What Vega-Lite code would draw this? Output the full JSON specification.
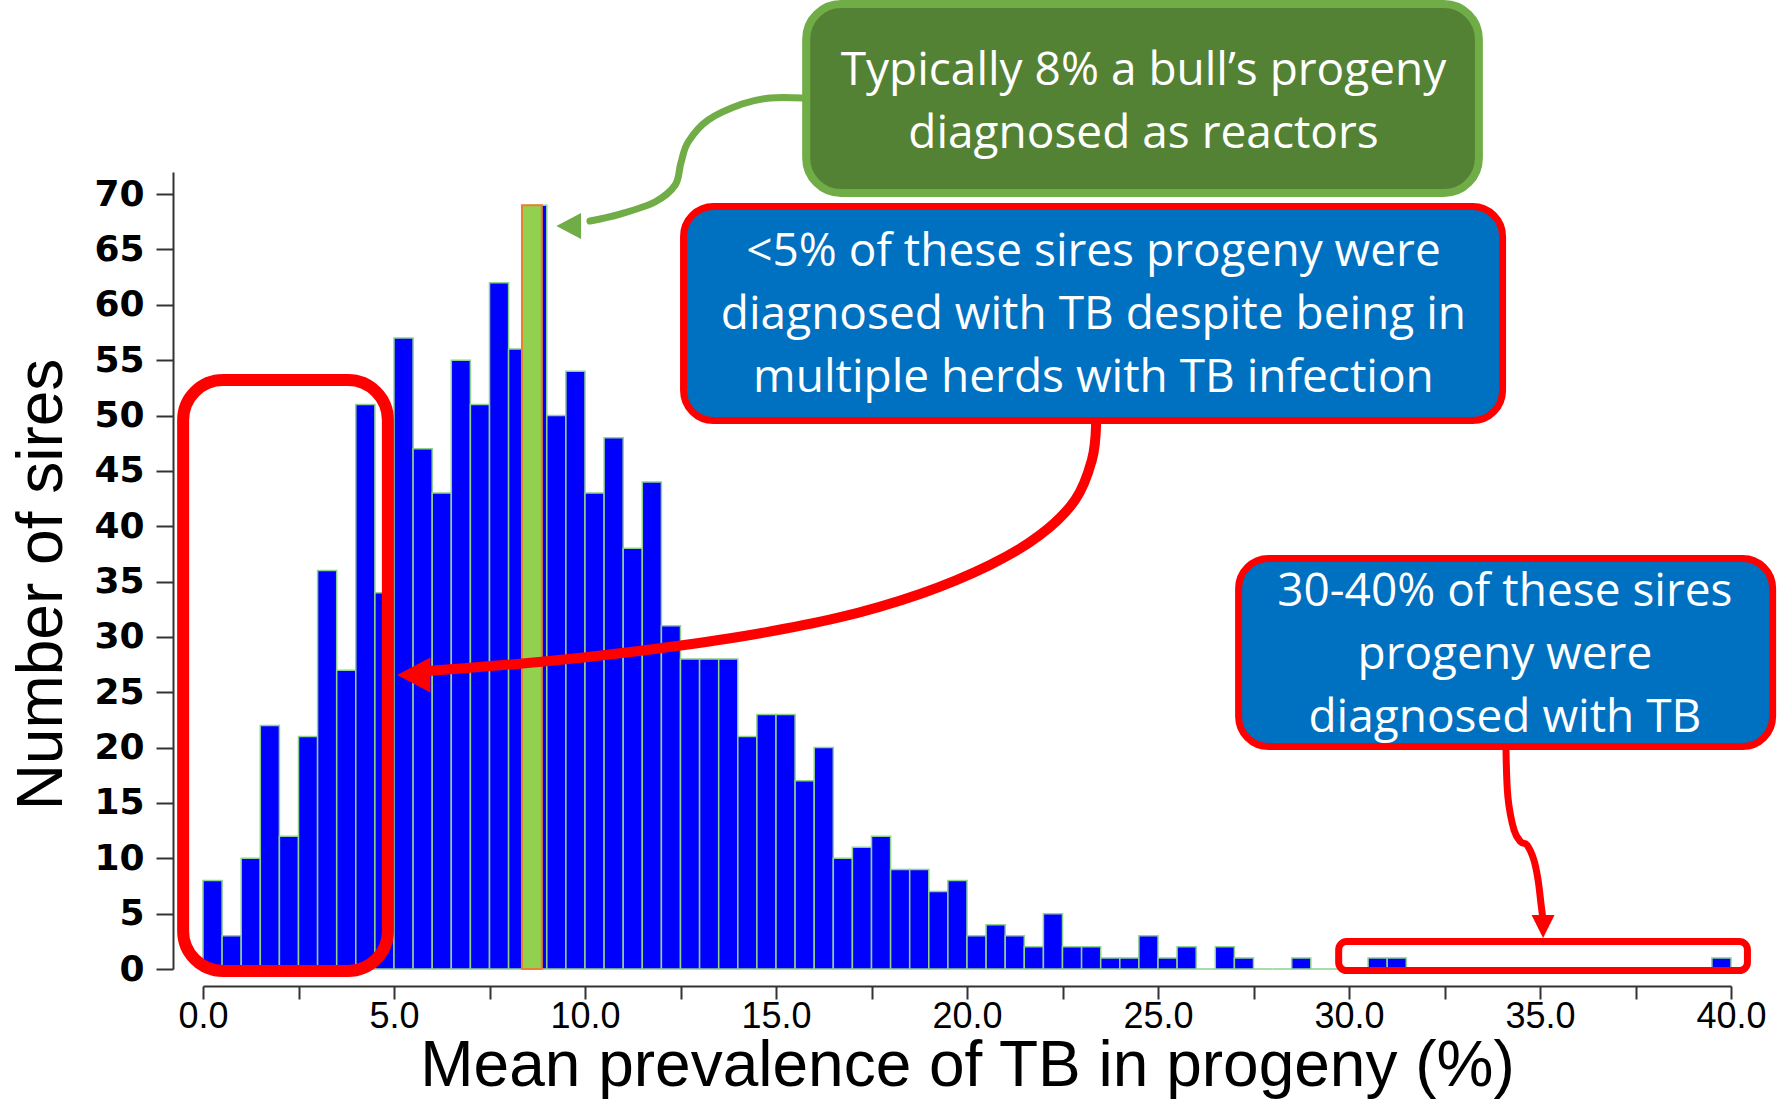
{
  "$schema": "https://vega.github.io/schema/vega-lite/v6.json",
  "width": 1528,
  "height": 797,
  "autosize": {"type": "none"},
  "padding": {"left": 203, "top": 172, "right": 46, "bottom": 133},
  "background": "white",
  "config": {"view": {"stroke": null}},
  "datasets": {
    "bins": [
      {"start": 0, "end": 0.5, "count": 8}, {"start": 0.5, "end": 1, "count": 3},
      {"start": 1, "end": 1.5, "count": 10}, {"start": 1.5, "end": 2, "count": 22},
      {"start": 2, "end": 2.5, "count": 12}, {"start": 2.5, "end": 3, "count": 21},
      {"start": 3, "end": 3.5, "count": 36}, {"start": 3.5, "end": 4, "count": 27},
      {"start": 4, "end": 4.5, "count": 51}, {"start": 4.5, "end": 5, "count": 34},
      {"start": 5, "end": 5.5, "count": 57}, {"start": 5.5, "end": 6, "count": 47},
      {"start": 6, "end": 6.5, "count": 43}, {"start": 6.5, "end": 7, "count": 55},
      {"start": 7, "end": 7.5, "count": 51}, {"start": 7.5, "end": 8, "count": 62},
      {"start": 8, "end": 8.5, "count": 56}, {"start": 8.5, "end": 9, "count": 69},
      {"start": 9, "end": 9.5, "count": 50}, {"start": 9.5, "end": 10, "count": 54},
      {"start": 10, "end": 10.5, "count": 43}, {"start": 10.5, "end": 11, "count": 48},
      {"start": 11, "end": 11.5, "count": 38}, {"start": 11.5, "end": 12, "count": 44},
      {"start": 12, "end": 12.5, "count": 31}, {"start": 12.5, "end": 13, "count": 28},
      {"start": 13, "end": 13.5, "count": 28}, {"start": 13.5, "end": 14, "count": 28},
      {"start": 14, "end": 14.5, "count": 21}, {"start": 14.5, "end": 15, "count": 23},
      {"start": 15, "end": 15.5, "count": 23}, {"start": 15.5, "end": 16, "count": 17},
      {"start": 16, "end": 16.5, "count": 20}, {"start": 16.5, "end": 17, "count": 10},
      {"start": 17, "end": 17.5, "count": 11}, {"start": 17.5, "end": 18, "count": 12},
      {"start": 18, "end": 18.5, "count": 9}, {"start": 18.5, "end": 19, "count": 9},
      {"start": 19, "end": 19.5, "count": 7}, {"start": 19.5, "end": 20, "count": 8},
      {"start": 20, "end": 20.5, "count": 3}, {"start": 20.5, "end": 21, "count": 4},
      {"start": 21, "end": 21.5, "count": 3}, {"start": 21.5, "end": 22, "count": 2},
      {"start": 22, "end": 22.5, "count": 5}, {"start": 22.5, "end": 23, "count": 2},
      {"start": 23, "end": 23.5, "count": 2}, {"start": 23.5, "end": 24, "count": 1},
      {"start": 24, "end": 24.5, "count": 1}, {"start": 24.5, "end": 25, "count": 3},
      {"start": 25, "end": 25.5, "count": 1}, {"start": 25.5, "end": 26, "count": 2},
      {"start": 26, "end": 26.5, "count": 0}, {"start": 26.5, "end": 27, "count": 2},
      {"start": 27, "end": 27.5, "count": 1}, {"start": 27.5, "end": 28, "count": 0},
      {"start": 28, "end": 28.5, "count": 0}, {"start": 28.5, "end": 29, "count": 1},
      {"start": 29, "end": 29.5, "count": 0}, {"start": 29.5, "end": 30, "count": 0},
      {"start": 30, "end": 30.5, "count": 0}, {"start": 30.5, "end": 31, "count": 1},
      {"start": 31, "end": 31.5, "count": 1}, {"start": 31.5, "end": 32, "count": 0},
      {"start": 32, "end": 32.5, "count": 0}, {"start": 32.5, "end": 33, "count": 0},
      {"start": 33, "end": 33.5, "count": 0}, {"start": 33.5, "end": 34, "count": 0},
      {"start": 34, "end": 34.5, "count": 0}, {"start": 34.5, "end": 35, "count": 0},
      {"start": 35, "end": 35.5, "count": 0}, {"start": 35.5, "end": 36, "count": 0},
      {"start": 36, "end": 36.5, "count": 0}, {"start": 36.5, "end": 37, "count": 0},
      {"start": 37, "end": 37.5, "count": 0}, {"start": 37.5, "end": 38, "count": 0},
      {"start": 38, "end": 38.5, "count": 0}, {"start": 38.5, "end": 39, "count": 0},
      {"start": 39, "end": 39.5, "count": 0}, {"start": 39.5, "end": 40, "count": 1}
    ],
    "highlight": [{"start": 8.35, "end": 8.87, "count": 69}],
    "greenBox": [{"x1": 15.79, "x2": 33.4, "y1": 70.1, "y2": 87.17}],
    "blueBoxes": [
      {"x1": 12.58, "x2": 34.02, "y1": 49.55, "y2": 68.88},
      {"x1": 27.11, "x2": 41.09, "y1": 20.1, "y2": 37.08}
    ],
    "redLeftBox": [{"x1": -0.52, "x2": 4.84, "y1": -0.18, "y2": 53.21}],
    "redRightBox": [{"x1": 29.73, "x2": 40.43, "y1": -0.14, "y2": 2.48}],
    "redCurve": [
      {"i": 0, "x": 23.38, "y": 49.23}, {"i": 1, "x": 23.27, "y": 45.98},
      {"i": 2, "x": 22.83, "y": 42.37}, {"i": 3, "x": 21.91, "y": 39.2},
      {"i": 4, "x": 20.6, "y": 36.5}, {"i": 5, "x": 18.77, "y": 33.88},
      {"i": 6, "x": 16.6, "y": 31.71}, {"i": 7, "x": 14.01, "y": 29.99},
      {"i": 8, "x": 11.41, "y": 28.73}, {"i": 9, "x": 8.8, "y": 27.73},
      {"i": 10, "x": 6.2, "y": 27.01}, {"i": 11, "x": 5.68, "y": 26.83}
    ],
    "redHeadLeft": [{"x": 5.54, "y": 26.56}],
    "greenCurve": [
      {"i": 0, "x": 15.71, "y": 78.68}, {"i": 1, "x": 14.84, "y": 78.68},
      {"i": 2, "x": 14.11, "y": 78.14}, {"i": 3, "x": 13.22, "y": 76.69},
      {"i": 4, "x": 12.7, "y": 74.71}, {"i": 5, "x": 12.51, "y": 72.81},
      {"i": 6, "x": 12.36, "y": 70.82}, {"i": 7, "x": 11.83, "y": 69.29},
      {"i": 8, "x": 10.92, "y": 68.2}, {"i": 9, "x": 10.13, "y": 67.57}
    ],
    "greenHead": [{"x": 9.59, "y": 67.12}],
    "redDown": [
      {"i": 0, "x": 34.11, "y": 19.78}, {"i": 1, "x": 34.16, "y": 15.54},
      {"i": 2, "x": 34.32, "y": 12.56}, {"i": 3, "x": 34.5, "y": 11.47},
      {"i": 4, "x": 34.66, "y": 11.2}, {"i": 5, "x": 34.84, "y": 9.85},
      {"i": 6, "x": 34.95, "y": 8.04}, {"i": 7, "x": 35.03, "y": 5.78},
      {"i": 8, "x": 35.08, "y": 4.43}
    ],
    "redHeadDown": [{"x": 35.08, "y": 3.84}],
    "labels": [
      {"x": 24.62, "y": 79.86, "label": "Typically 8% a bull’s progeny\ndiagnosed as reactors"},
      {"x": 23.31, "y": 63.5, "label": "<5% of these sires progeny were\ndiagnosed with TB despite being in\nmultiple herds with TB infection"},
      {"x": 34.08, "y": 32.79, "label": "30-40% of these sires\nprogeny were\ndiagnosed with TB"}
    ]
  },
  "layer": [
    {
      "data": {"name": "bins"},
      "mark": {"type": "rect", "fill": "#0000FF", "stroke": "#8fd18f", "strokeWidth": 1.5},
      "encoding": {
        "x": {
          "field": "start", "type": "quantitative",
          "scale": {"domain": [0, 40], "nice": false, "zero": false},
          "title": "Mean prevalence of TB in progeny (%)",
          "axis": {
            "values": [0, 2.5, 5, 7.5, 10, 12.5, 15, 17.5, 20, 22.5, 25, 27.5, 30, 32.5, 35, 37.5, 40],
            "labelExpr": "datum.value % 5 === 0 ? format(datum.value, '.1f') : ''",
            "offset": 17, "tickSize": 13, "tickWidth": 2, "domainWidth": 2,
            "domainColor": "#333333", "tickColor": "#333333",
            "labelFont": "Liberation Sans Narrow, Liberation Sans, Arial", "labelFontSize": 36,
            "labelColor": "#000000", "labelPadding": 0, "labelFlush": false, "labelOverlap": false,
            "grid": false,
            "titleFont": "Liberation Sans", "titleFontSize": 64, "titleFontWeight": "normal",
            "titleColor": "#000000", "titlePadding": 0
          }
        },
        "x2": {"field": "end"},
        "y": {
          "field": "count", "type": "quantitative",
          "scale": {"domain": [0, 72], "nice": false},
          "title": "Number of sires",
          "axis": {
            "values": [0, 5, 10, 15, 20, 25, 30, 35, 40, 45, 50, 55, 60, 65, 70],
            "offset": 30, "tickSize": 17, "tickWidth": 2, "domainWidth": 2,
            "domainColor": "#333333", "tickColor": "#333333",
            "labelFont": "DejaVu Sans", "labelFontWeight": "bold", "labelFontSize": 36,
            "labelColor": "#000000", "labelPadding": 12, "labelFlush": false, "labelOverlap": false,
            "grid": false,
            "titleFont": "Liberation Sans", "titleFontSize": 64, "titleFontWeight": "normal",
            "titleColor": "#000000", "titlePadding": 19, "titleY": 412
          }
        },
        "y2": {"datum": 0}
      }
    },
    {
      "data": {"name": "highlight"},
      "mark": {"type": "rect", "fill": "#92D050", "stroke": "#ED7D31", "strokeWidth": 2},
      "encoding": {
        "x": {"field": "start", "type": "quantitative", "title": "Mean prevalence of TB in progeny (%)"},
        "x2": {"field": "end"},
        "y": {"field": "count", "type": "quantitative", "title": "Number of sires"},
        "y2": {"datum": 0}
      }
    },
    {
      "data": {"name": "redLeftBox"},
      "mark": {"type": "rect", "filled": false, "stroke": "#FF0000", "strokeWidth": 12, "cornerRadius": 40},
      "encoding": {
        "x": {"field": "x1", "type": "quantitative", "title": "Mean prevalence of TB in progeny (%)"},
        "x2": {"field": "x2"},
        "y": {"field": "y1", "type": "quantitative", "title": "Number of sires"},
        "y2": {"field": "y2"}
      }
    },
    {
      "data": {"name": "redCurve"},
      "mark": {"type": "line", "stroke": "#FF0000", "strokeWidth": 10, "interpolate": "cardinal", "strokeCap": "round"},
      "encoding": {
        "x": {"field": "x", "type": "quantitative", "title": "Mean prevalence of TB in progeny (%)"},
        "y": {"field": "y", "type": "quantitative", "title": "Number of sires"},
        "order": {"field": "i"}
      }
    },
    {
      "data": {"name": "redHeadLeft"},
      "mark": {"type": "point", "shape": "M -1 0 L 0.9 -1 L 0.9 1 Z", "filled": true, "fill": "#FF0000", "strokeWidth": 0, "size": 1225, "opacity": 1},
      "encoding": {
        "x": {"field": "x", "type": "quantitative", "title": "Mean prevalence of TB in progeny (%)"},
        "y": {"field": "y", "type": "quantitative", "title": "Number of sires"}
      }
    },
    {
      "data": {"name": "greenCurve"},
      "mark": {"type": "line", "stroke": "#70AD47", "strokeWidth": 7, "interpolate": "cardinal", "strokeCap": "round"},
      "encoding": {
        "x": {"field": "x", "type": "quantitative", "title": "Mean prevalence of TB in progeny (%)"},
        "y": {"field": "y", "type": "quantitative", "title": "Number of sires"},
        "order": {"field": "i"}
      }
    },
    {
      "data": {"name": "greenHead"},
      "mark": {"type": "point", "shape": "M -1 0 L 0.9 -1 L 0.9 1 Z", "filled": true, "fill": "#70AD47", "strokeWidth": 0, "size": 676, "opacity": 1},
      "encoding": {
        "x": {"field": "x", "type": "quantitative", "title": "Mean prevalence of TB in progeny (%)"},
        "y": {"field": "y", "type": "quantitative", "title": "Number of sires"}
      }
    },
    {
      "data": {"name": "greenBox"},
      "mark": {"type": "rect", "fill": "#548235", "stroke": "#70AD47", "strokeWidth": 8, "cornerRadius": 35},
      "encoding": {
        "x": {"field": "x1", "type": "quantitative", "title": "Mean prevalence of TB in progeny (%)"},
        "x2": {"field": "x2"},
        "y": {"field": "y1", "type": "quantitative", "title": "Number of sires"},
        "y2": {"field": "y2"}
      }
    },
    {
      "data": {"name": "redDown"},
      "mark": {"type": "line", "stroke": "#FF0000", "strokeWidth": 7, "interpolate": "cardinal", "strokeCap": "round"},
      "encoding": {
        "x": {"field": "x", "type": "quantitative", "title": "Mean prevalence of TB in progeny (%)"},
        "y": {"field": "y", "type": "quantitative", "title": "Number of sires"},
        "order": {"field": "i"}
      }
    },
    {
      "data": {"name": "redHeadDown"},
      "mark": {"type": "point", "shape": "M -1 -1 L 1 -1 L 0 1 Z", "filled": true, "fill": "#FF0000", "strokeWidth": 0, "size": 529, "opacity": 1},
      "encoding": {
        "x": {"field": "x", "type": "quantitative", "title": "Mean prevalence of TB in progeny (%)"},
        "y": {"field": "y", "type": "quantitative", "title": "Number of sires"}
      }
    },
    {
      "data": {"name": "blueBoxes"},
      "mark": {"type": "rect", "fill": "#0070C0", "stroke": "#FF0000", "strokeWidth": 7, "cornerRadius": 30},
      "encoding": {
        "x": {"field": "x1", "type": "quantitative", "title": "Mean prevalence of TB in progeny (%)"},
        "x2": {"field": "x2"},
        "y": {"field": "y1", "type": "quantitative", "title": "Number of sires"},
        "y2": {"field": "y2"}
      }
    },
    {
      "data": {"name": "redRightBox"},
      "mark": {"type": "rect", "filled": false, "stroke": "#FF0000", "strokeWidth": 7, "cornerRadius": 8},
      "encoding": {
        "x": {"field": "x1", "type": "quantitative", "title": "Mean prevalence of TB in progeny (%)"},
        "x2": {"field": "x2"},
        "y": {"field": "y1", "type": "quantitative", "title": "Number of sires"},
        "y2": {"field": "y2"}
      }
    },
    {
      "data": {"name": "labels"},
      "mark": {"type": "text", "color": "#FFFFFF", "font": "Open Sans", "fontSize": 46, "lineBreak": "\n", "lineHeight": 63, "align": "center", "baseline": "alphabetic"},
      "encoding": {
        "x": {"field": "x", "type": "quantitative", "title": "Mean prevalence of TB in progeny (%)"},
        "y": {"field": "y", "type": "quantitative", "title": "Number of sires"},
        "text": {"field": "label"}
      }
    }
  ]
}
